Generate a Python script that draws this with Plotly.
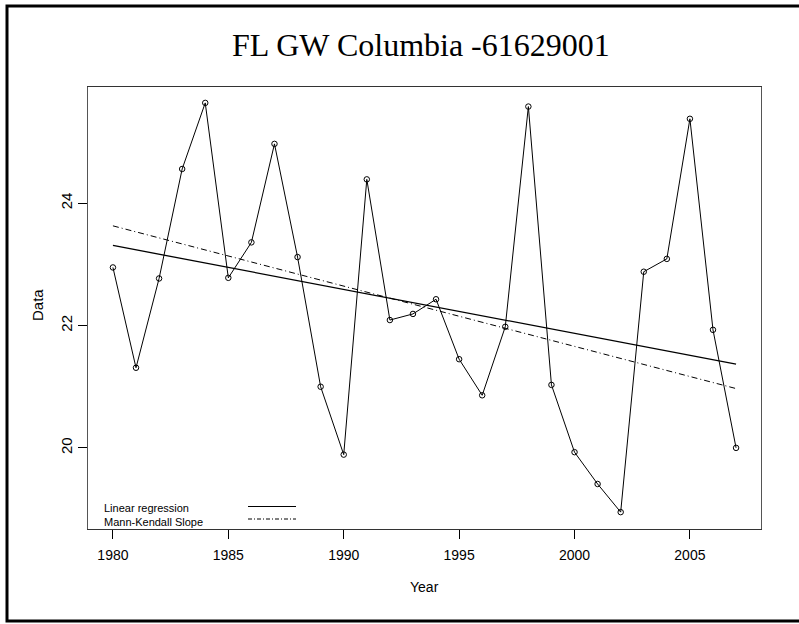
import plotly.graph_objects as go

# ---- data ----
years = list(range(1980, 2008))
values = [22.95, 21.31, 22.77, 24.56, 25.64, 22.78, 23.36, 24.97, 23.12, 21.00,
          19.89, 24.39, 22.09, 22.19, 22.43, 21.45, 20.86, 21.98, 25.58, 21.03,
          19.93, 19.41, 18.95, 22.88, 23.09, 25.38, 21.93, 20.00]
trend_years = [1980, 2007]
linreg_vals = [23.31, 21.37]
mk_vals = [23.63, 20.97]
x_ticks = [1980, 1985, 1990, 1995, 2000, 2005]
y_ticks = [20, 22, 24]

title_text = "FL GW Columbia -61629001"
x_title = "Year"
y_title = "Data"
legend_labels = ["Linear regression", "Mann-Kendall Slope"]

SANS = "Liberation Sans, Arial, sans-serif"
SERIF = "Liberation Serif, Times New Roman, serif"

fig = go.Figure()
fig.add_trace(go.Scatter(
    x=years, y=values, mode="lines+markers",
    line=dict(color="black", width=1),
    marker=dict(symbol="circle-open", size=5.5, color="black", line=dict(width=1)),
    showlegend=False, hoverinfo="x+y"))
fig.add_trace(go.Scatter(
    x=trend_years, y=linreg_vals, mode="lines",
    line=dict(color="black", width=1.3), showlegend=False))
fig.add_trace(go.Scatter(
    x=trend_years, y=mk_vals, mode="lines",
    line=dict(color="black", width=1, dash="6px,3px,1px,3px"), showlegend=False))

L, R, T, B = 88, 38, 87, 95
W, H = 799, 624
pw, ph = W - L - R, H - T - B

def px(xp):
    return (xp - L) / pw

def py(yp):
    return (H - B - yp) / ph

fig.update_layout(
    width=W, height=H,
    margin=dict(l=L, r=R, t=T, b=B, pad=0),
    paper_bgcolor="white", plot_bgcolor="white",
    xaxis=dict(range=[1978.92, 2008.08], tickvals=x_ticks,
               ticks="outside", ticklen=9, tickcolor="black", tickwidth=1,
               ticklabelstandoff=4,
               showgrid=False, zeroline=False,
               showline=True, linecolor="#333", linewidth=1, mirror=True,
               tickfont=dict(family=SANS, size=14, color="black")),
    yaxis=dict(range=[18.674, 25.90], tickvals=y_ticks, tickangle=-90,
               ticks="outside", ticklen=9, tickcolor="black", tickwidth=1,
               showgrid=False, zeroline=False,
               showline=True, linecolor="#555", linewidth=1, mirror=True,
               tickfont=dict(family=SANS, size=15, color="black")),
    showlegend=False,
)

ann = []
ann.append(dict(text=title_text, x=px(421), y=py(45), xref="paper", yref="paper",
                showarrow=False, font=dict(family=SERIF, size=32, color="black"),
                xanchor="center", yanchor="middle"))
ann.append(dict(text=x_title, x=px(424), y=py(587), xref="paper", yref="paper",
                showarrow=False, font=dict(family=SANS, size=14, color="black"),
                xanchor="center", yanchor="middle"))
ann.append(dict(text=y_title, x=px(37), y=py(305), xref="paper", yref="paper",
                showarrow=False, textangle=-90,
                font=dict(family=SANS, size=15, color="black"),
                xanchor="center", yanchor="middle"))
ann.append(dict(text=legend_labels[0], x=px(102), y=py(508), xref="paper", yref="paper",
                showarrow=False, font=dict(family=SANS, size=11, color="black"),
                xanchor="left", yanchor="middle"))
ann.append(dict(text=legend_labels[1], x=px(102), y=py(522), xref="paper", yref="paper",
                showarrow=False, font=dict(family=SANS, size=11, color="black"),
                xanchor="left", yanchor="middle"))
fig.update_layout(annotations=ann)

shapes = []
shapes.append(dict(type="line", xref="paper", yref="paper",
                   x0=px(248), x1=px(296), y0=py(506.5), y1=py(506.5),
                   line=dict(color="black", width=1.2)))
shapes.append(dict(type="line", xref="paper", yref="paper",
                   x0=px(248), x1=px(296), y0=py(519), y1=py(519),
                   line=dict(color="black", width=1, dash="4px,2px,1px,2px")))
# outer frame (right side runs off the picture)
shapes.append(dict(type="rect", xref="paper", yref="paper",
                   x0=px(7), x1=px(810), y0=py(6), y1=py(621),
                   line=dict(color="black", width=3), layer="below"))
fig.update_layout(shapes=shapes)

fig.write_html("out.html",
               config={"displayModeBar": False},
               post_script="document.body.style.margin='0';"
                           "document.body.style.overflow='hidden';")
